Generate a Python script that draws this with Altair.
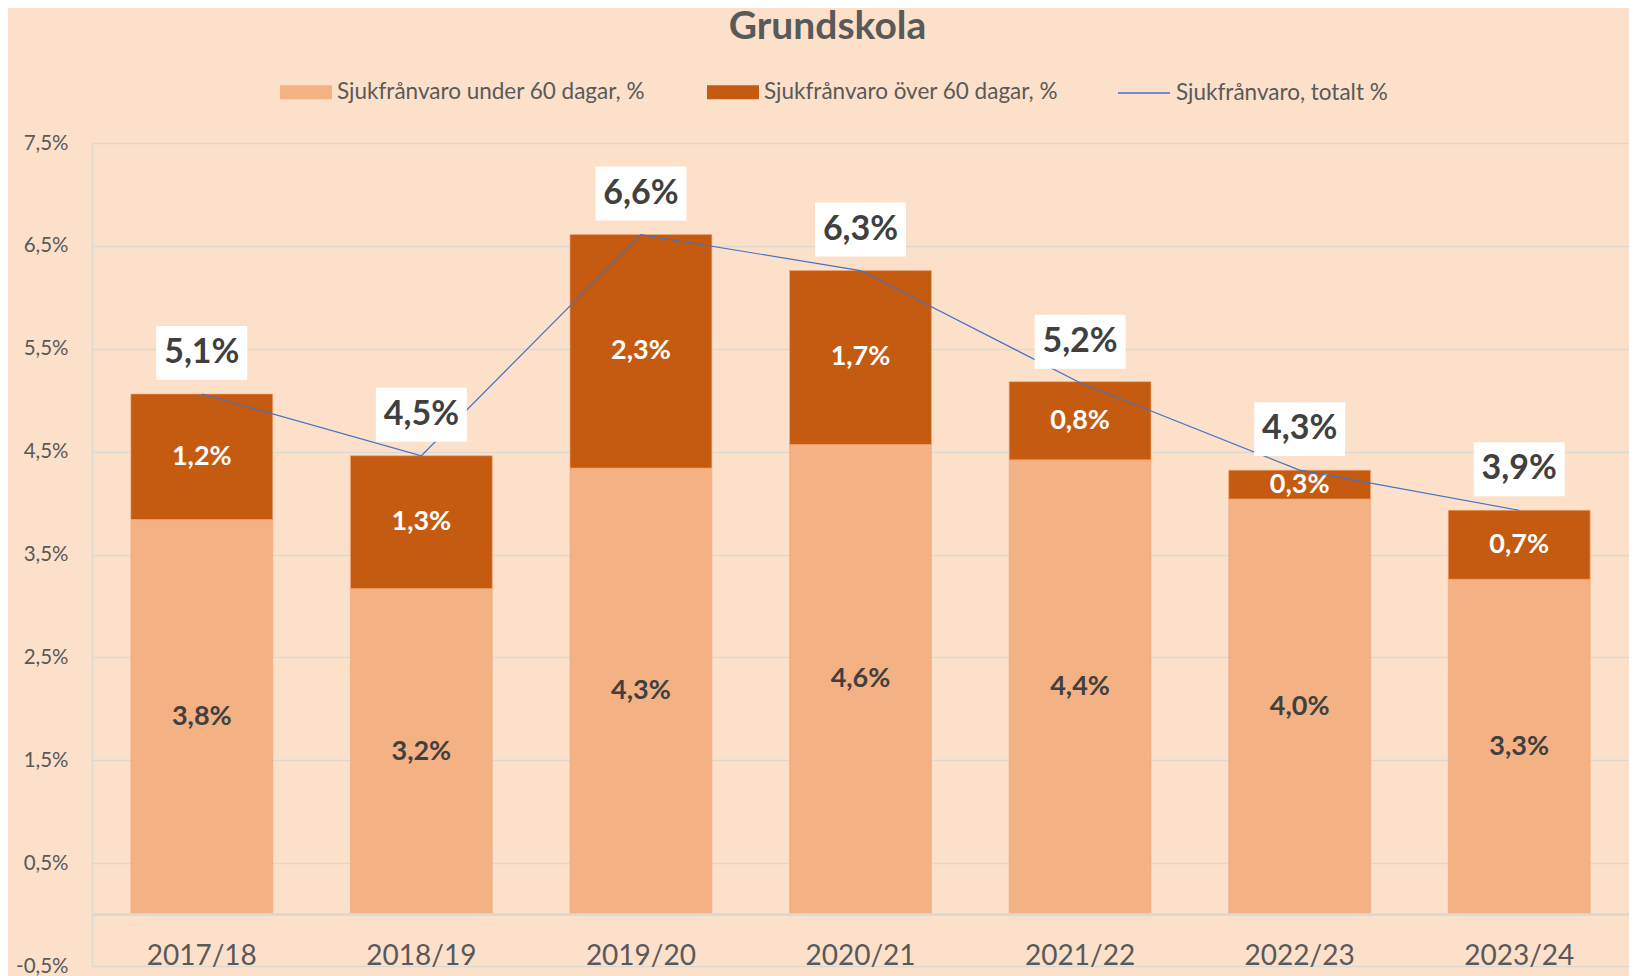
import altair as alt
import pandas as pd

years = ["2017/18", "2018/19", "2019/20", "2020/21", "2021/22", "2022/23", "2023/24"]
under60 = [3.84, 3.17, 4.34, 4.57, 4.42, 4.04, 3.26]
over60 = [1.22, 1.29, 2.27, 1.69, 0.76, 0.28, 0.67]
total = [5.06, 4.46, 6.61, 6.26, 5.17, 4.32, 3.93]

s_under = "Sjukfrånvaro under 60 dagar, %"
s_over = "Sjukfrånvaro över 60 dagar, %"
s_total = "Sjukfrånvaro, totalt %"
y_ticks = [-0.5, 0.5, 1.5, 2.5, 3.5, 4.5, 5.5, 6.5, 7.5]

FONT = "Lato"
BG = "#FCE0CA"
C_UNDER = "#F4B183"
C_OVER = "#C55A11"
C_LINE = "#4472C4"
GRID = "#DCD8D2"

rows = []
for i, yr in enumerate(years):
    rows.append({"year": yr, "series": s_under, "y0": 0.0, "y1": under60[i],
                 "v": under60[i], "mid": under60[i] / 2, "tc": "#404040"})
    rows.append({"year": yr, "series": s_over, "y0": under60[i], "y1": under60[i] + over60[i],
                 "v": over60[i], "mid": under60[i] + over60[i] / 2, "tc": "#FFFFFF"})
bars_df = pd.DataFrame(rows)
tot_df = pd.DataFrame({"year": years, "total": total, "name": [s_total] * len(years)})

x_enc = alt.X("year:N", sort=years,
              scale=alt.Scale(paddingInner=0.354, paddingOuter=0.177),
              axis=alt.Axis(title=None, labelFont=FONT, labelFontSize=28, labelColor="#595959",
                            labelAngle=0, ticks=False, domain=False, labelBaseline="alphabetic",
                            labelPadding=-2))
y_scale = alt.Scale(domain=[-0.5, 7.5], nice=False, zero=False)
label_expr = "replace(replace(format(datum.value, '.1f'), '.', ','), '\u2212', '-') + '%'"

bars = alt.Chart(bars_df).mark_bar(stroke="#F2A878", strokeWidth=1, strokeOpacity=0.6).encode(
    x=x_enc,
    y=alt.Y("y1:Q", scale=y_scale,
            axis=alt.Axis(title=None, values=y_ticks, labelExpr=label_expr, labelFont=FONT,
                          labelFontSize=20.5, labelColor="#595959", ticks=False, labelPadding=24,
                          domain=True, domainColor=GRID, domainWidth=1.5,
                          grid=True, gridColor=GRID, gridWidth=1.5)),
    y2="y0:Q",
    color=alt.Color("series:N",
                    scale=alt.Scale(domain=[s_under, s_over], range=[C_UNDER, C_OVER]),
                    legend=alt.Legend(title=None, orient="none", direction="horizontal",
                                      legendX=188, legendY=-77,
                                      symbolType="M-1,-0.27L1,-0.27L1,0.27L-1,0.27Z",
                                      symbolSize=2704, symbolStrokeWidth=0, symbolOpacity=1,
                                      labelFont=FONT, labelFontSize=22.5, labelColor="#595959",
                                      labelOffset=5, columnPadding=62, labelLimit=500)),
)

zero = alt.Chart(tot_df).mark_rule(color=GRID, strokeWidth=1.5).encode(y=alt.datum(0))

inner = alt.Chart(bars_df).transform_calculate(
    lab="replace(format(datum.v, '.1f'), '.', ',') + '%'"
).mark_text(font=FONT, fontSize=27, fontWeight="bold", baseline="middle").encode(
    x=alt.X("year:N", sort=years),
    y=alt.Y("mid:Q"),
    text="lab:N",
    color=alt.Color("tc:N", scale=None),
)

line = alt.Chart(tot_df).mark_line(strokeWidth=1.2).encode(
    x=alt.X("year:N", sort=years),
    y=alt.Y("total:Q"),
    stroke=alt.Stroke("name:N", scale=alt.Scale(domain=[s_total], range=[C_LINE]),
                      legend=alt.Legend(title=None, orient="none", direction="horizontal",
                                        legendX=1025, legendY=-77, symbolType="stroke",
                                        symbolSize=2704, symbolStrokeWidth=1.5,
                                        labelFont=FONT, labelFontSize=22.5, labelColor="#595959",
                                        labelOffset=5, labelLimit=500)),
)

boxes = alt.Chart(tot_df).mark_point(
    shape="M-1,-0.593L1,-0.593L1,0.593L-1,0.593Z", filled=True, fill="white",
    opacity=1, strokeWidth=0, size=8281, yOffset=-41
).encode(x=alt.X("year:N", sort=years), y=alt.Y("total:Q"))

tot_text = alt.Chart(tot_df).transform_calculate(
    lab="replace(format(datum.total, '.1f'), '.', ',') + '%'"
).mark_text(font=FONT, fontSize=34, fontWeight="bold", color="#404040",
            baseline="middle", yOffset=-41).encode(
    x=alt.X("year:N", sort=years), y=alt.Y("total:Q"), text="lab:N")

chart = alt.layer(bars, zero, inner, line, boxes, tot_text).resolve_scale(
    color="independent"
).properties(
    width=1537, height=823,
    title=alt.TitleParams("Grundskola", font=FONT, fontSize=39, fontWeight="bold",
                          color="#595959", anchor="middle", dx=-33),
    autosize=alt.AutoSizeParams(type="none"),
    padding={"left": 84, "top": 135, "right": 0, "bottom": 12},
    background=BG,
).configure_view(stroke=None).configure_title(offset=19)

chart.save("out.html", embed_options={"renderer": "svg", "actions": False})
